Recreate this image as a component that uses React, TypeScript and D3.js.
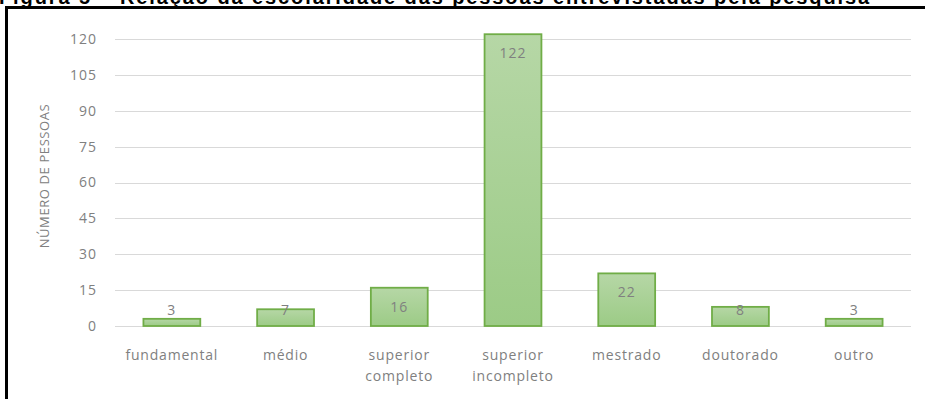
import React from "react";
import * as d3 from "d3";

const categories: string[][] = [
  ["fundamental"],
  ["médio"],
  ["superior", "completo"],
  ["superior", "incompleto"],
  ["mestrado"],
  ["doutorado"],
  ["outro"],
];
const values: number[] = [3, 7, 16, 122, 22, 8, 3];
const yTicks: number[] = [0, 15, 30, 45, 60, 75, 90, 105, 120];
const yTitle = "NÚMERO DE PESSOAS";
const figTitle = "Figura 5 – Relação da escolaridade das pessoas entrevistadas pela pesquisa";

const W = 925;
const H = 399;
const plot = { left: 115, right: 911, top: 39, bottom: 326 };
const FONT = "'Open Sans', 'DejaVu Sans', sans-serif";
const GREY = "#808080";

export default function App() {
  const x = d3
    .scaleBand<number>()
    .domain(values.map((_, i) => i))
    .range([plot.left, plot.right])
    .paddingInner(0.5)
    .paddingOuter(0.25);
  const y = d3.scaleLinear().domain([0, 120]).range([plot.bottom, plot.top]);

  return (
    <svg
      width={W}
      height={H}
      style={{ position: "absolute", left: 0, top: 0, background: "#fff" }}
    >
      <defs>
        <linearGradient id="barGrad" x1="0" y1="0" x2="0" y2="1">
          <stop offset="0%" stopColor="#b6d7a6" />
          <stop offset="100%" stopColor="#9ccb86" />
        </linearGradient>
      </defs>
      <rect x={0} y={0} width={W} height={H} fill="#fff" />
      {/* cut-off figure title */}
      <text
        x={-1}
        y={3.5}
        fontFamily="'Liberation Sans', Arial, sans-serif"
        fontWeight="bold"
        fontSize={20}
        letterSpacing={1.9}
        fill="#000"
      >
        {figTitle}
      </text>
      {/* frame */}
      <line x1={6.5} x2={W} y1={7.5} y2={7.5} stroke="#000" strokeWidth={3} />
      <line x1={6.5} x2={6.5} y1={6} y2={H} stroke="#000" strokeWidth={3} />

      {/* grid */}
      {yTicks.map((t) => (
        <g key={t}>
          <line
            x1={plot.left}
            x2={plot.right}
            y1={Math.round(y(t)) + 0.5}
            y2={Math.round(y(t)) + 0.5}
            stroke="#d9d9d9"
            strokeWidth={1}
          />
          <text
            x={97}
            y={y(t)}
            dy="0.35em"
            textAnchor="end"
            fontFamily={FONT}
            fontSize={14}
            letterSpacing={1}
            fill={GREY}
          >
            {t}
          </text>
        </g>
      ))}

      {/* y title */}
      <text
        transform={`translate(49, 176) rotate(-90)`}
        textAnchor="middle"
        fontFamily={FONT}
        fontSize={13}
        letterSpacing={0.6}
        fill={GREY}
      >
        {yTitle}
      </text>

      {/* bars */}
      {values.map((v, i) => {
        const bx = x(i)!;
        const bw = x.bandwidth();
        const top = y(v);
        const labelY = Math.min(top + 19, y(0) - 16);
        return (
          <g key={i}>
            <rect
              x={bx}
              y={top}
              width={bw}
              height={y(0) - top}
              fill="url(#barGrad)"
              stroke="#70ad47"
              strokeWidth={1.8}
            />
            <text
              x={bx + bw / 2}
              y={labelY}
              dy="0.35em"
              textAnchor="middle"
              fontFamily={FONT}
              fontSize={14}
              letterSpacing={1}
              fill={GREY}
            >
              {v}
            </text>
            {categories[i].map((line, j) => (
              <text
                key={j}
                x={bx + bw / 2}
                y={355 + j * 21}
                dy="0.35em"
                textAnchor="middle"
                fontFamily={FONT}
                fontSize={14}
                letterSpacing={0.8}
                fill={GREY}
              >
                {line}
              </text>
            ))}
          </g>
        );
      })}
    </svg>
  );
}
